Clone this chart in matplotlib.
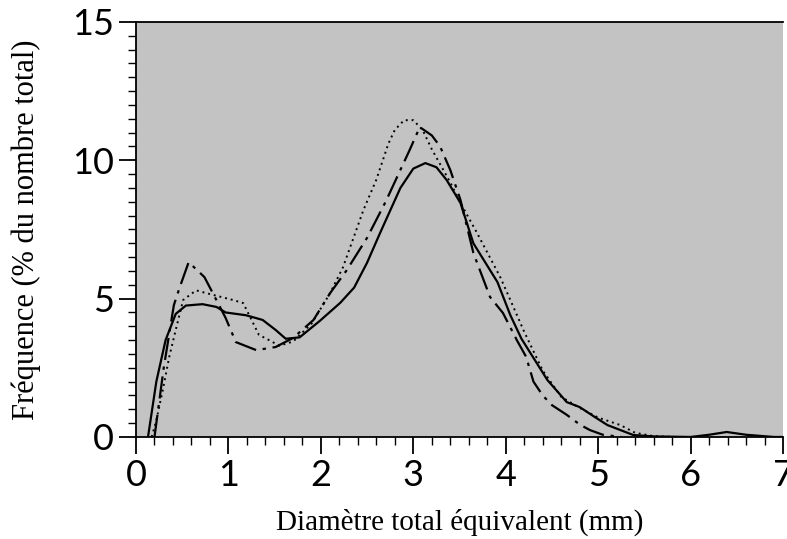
import matplotlib
matplotlib.use("Agg")
import matplotlib.pyplot as plt
from matplotlib.ticker import MultipleLocator

# Diameter (mm) and frequency (% of total number) for the three curves
solid_x = [0.13, 0.22, 0.32, 0.43, 0.54, 0.72, 0.87, 0.97, 1.19, 1.37, 1.51, 1.62,
           1.77, 1.99, 2.21, 2.36, 2.50, 2.64, 2.86, 3.00, 3.13, 3.25, 3.36, 3.51,
           3.65, 3.91, 4.05, 4.17, 4.45, 4.66, 4.80, 4.95, 5.10, 5.38, 5.60, 6.00,
           6.20, 6.39, 6.60, 6.90, 7.00]
solid_y = [0.0, 2.0, 3.5, 4.45, 4.75, 4.8, 4.7, 4.5, 4.4, 4.23, 3.87, 3.55,
           3.6, 4.2, 4.85, 5.4, 6.3, 7.37, 9.0, 9.7, 9.9, 9.75, 9.29, 8.46,
           7.0, 5.6, 4.4, 3.55, 2.06, 1.26, 1.08, 0.75, 0.43, 0.07, 0.02, 0.0,
           0.08, 0.18, 0.08, 0.0, 0.0]

dash_x = [0.20, 0.30, 0.41, 0.47, 0.57, 0.74, 0.87, 0.97, 1.08, 1.30, 1.51, 1.70,
          1.92, 2.10, 2.28, 2.50, 2.70, 2.96, 3.07, 3.20, 3.29, 3.40, 3.51, 3.65,
          3.72, 3.83, 3.97, 4.12, 4.22, 4.30, 4.40, 4.50, 4.66, 4.80, 4.91, 5.05, 5.25]
dash_y = [0.0, 2.5, 4.77, 5.38, 6.32, 5.78, 4.95, 4.3, 3.43, 3.14, 3.25, 3.58,
          4.23, 5.2, 6.03, 7.2, 8.5, 10.37, 11.2, 10.9, 10.5, 9.65, 8.57, 6.65,
          6.03, 5.06, 4.48, 3.5, 2.9, 2.0, 1.5, 1.15, 0.8, 0.45, 0.25, 0.08, 0.0]

dot_x = [0.17, 0.22, 0.29, 0.36, 0.43, 0.51, 0.65, 0.76, 1.05, 1.16, 1.33, 1.44,
         1.55, 1.70, 1.90, 2.10, 2.24, 2.46, 2.60, 2.73, 2.80, 2.90, 3.00, 3.10,
         3.20, 3.30, 3.40, 3.51, 3.69, 3.94, 4.05, 4.20, 4.40, 4.60, 4.80, 5.00,
         5.24, 5.40, 5.60, 5.80]
dot_y = [0.0, 0.6, 1.7, 2.9, 3.87, 4.95, 5.3, 5.2, 4.95, 4.84, 3.69, 3.5,
         3.3, 3.45, 4.1, 5.2, 6.14, 8.2, 9.3, 10.6, 11.1, 11.45, 11.45, 11.1,
         10.4, 9.8, 9.2, 8.46, 7.37, 5.78, 4.95, 3.8, 2.4, 1.45, 1.05, 0.7,
         0.43, 0.15, 0.03, 0.0]

x_ticks = [0, 1, 2, 3, 4, 5, 6, 7]
y_ticks = [0, 5, 10, 15]

fig = plt.figure(figsize=(7.87, 5.39), dpi=100)
ax = fig.add_axes([0.1728, 0.1893, 0.8222, 0.7699])
ax.set_facecolor("#c3c3c3")

ax.plot(solid_x, solid_y, color="black", lw=1.6, linestyle="-")
ax.plot(dash_x, dash_y, color="black", lw=1.6, linestyle=(0, (10, 3, 1.5, 3)))
ax.plot(dot_x, dot_y, color="black", lw=1.4, linestyle=(0, (1, 2)))

ax.set_xlim(0, 7)
ax.set_ylim(0, 15)
ax.set_xticks(x_ticks)
ax.set_yticks(y_ticks)
ax.xaxis.set_minor_locator(MultipleLocator(0.2))
ax.yaxis.set_minor_locator(MultipleLocator(0.5))
ax.tick_params(which="major", direction="out", length=12, width=1.3, pad=4,
               labelsize=26)
ax.tick_params(which="minor", direction="out", length=6, width=1.0)
for lbl in ax.get_xticklabels() + ax.get_yticklabels():
    lbl.set_fontfamily("Lato")

ax.spines["right"].set_visible(False)
for s in ["left", "bottom", "top"]:
    ax.spines[s].set_linewidth(1.3)

ax.set_xlabel("Diamètre total équivalent (mm)", fontfamily="Liberation Serif",
              fontsize=21, labelpad=12)
ax.set_ylabel("Fréquence (% du nombre total)", fontfamily="Liberation Serif",
              fontsize=22, labelpad=22)

fig.savefig("out.png", dpi=100)
